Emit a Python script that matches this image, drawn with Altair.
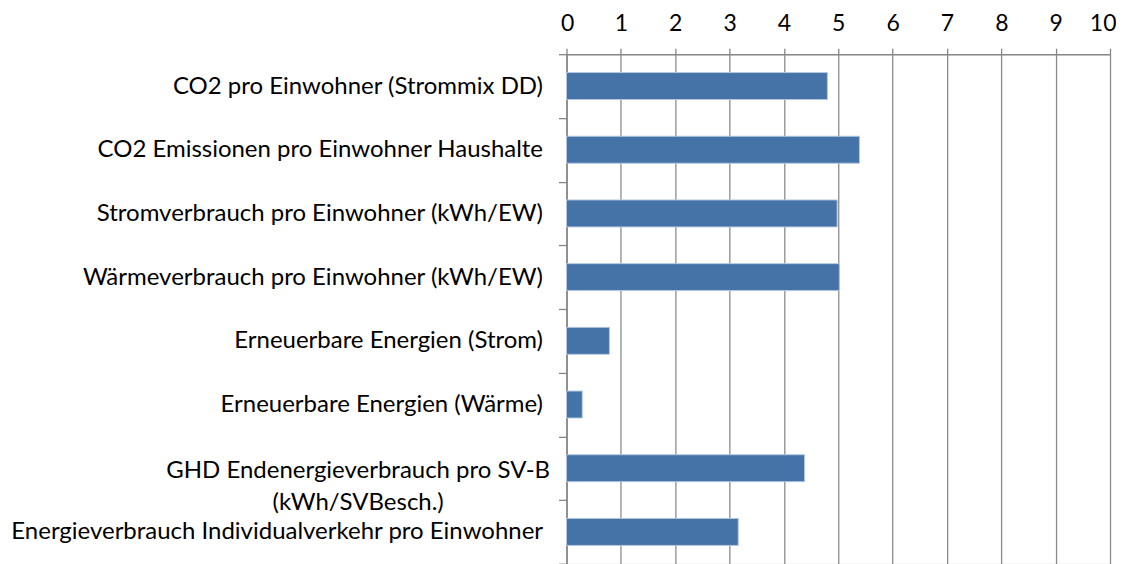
import altair as alt
import pandas as pd

categories = [
    "CO2 pro Einwohner (Strommix DD)",
    "CO2 Emissionen pro Einwohner Haushalte",
    "Stromverbrauch pro Einwohner (kWh/EW)",
    "Wärmeverbrauch pro Einwohner (kWh/EW)",
    "Erneuerbare Energien (Strom)",
    "Erneuerbare Energien (Wärme)",
    "GHD Endenergieverbrauch pro SV-B (kWh/SVBesch.)",
    "Energieverbrauch Individualverkehr pro Einwohner",
]
values = [4.8, 5.39, 4.98, 5.02, 0.79, 0.29, 4.38, 3.16]
x_ticks = [0, 1, 2, 3, 4, 5, 6, 7, 8, 9, 10]

df = pd.DataFrame({"cat": categories, "val": values})

FONT = "Lato"
GHD = "GHD Endenergieverbrauch pro SV-B (kWh/SVBesch.)"

label_expr = (
    f"datum.value == '{GHD}' ? ['GHD Endenergieverbrauch pro SV-B', '(kWh/SVBesch.)'] : datum.value"
)

chart = (
    alt.Chart(df)
    .mark_bar(color="#4572A7", stroke="#B4C7E0", strokeWidth=1, size=27)
    .encode(
        x=alt.X(
            "val:Q",
            scale=alt.Scale(domain=[0, 10], nice=False, zero=True),
            axis=alt.Axis(
                orient="top",
                values=x_ticks,
                title=None,
                grid=True,
                gridColor="#8C8C8C",
                gridWidth=1.3,
                domainColor="#868686",
                domainWidth=1.5,
                tickColor="#868686",
                tickSize=6,
                tickWidth=1.3,
                labelFont=FONT,
                labelFontSize=23,
                labelColor="#000000",
                labelPadding=13,
                labelFlush=True,
                labelFlushOffset=6,
            ),
        ),
        y=alt.Y(
            "cat:N",
            sort=categories,
            scale=alt.Scale(paddingInner=0, paddingOuter=0),
            axis=alt.Axis(
                title=None,
                tickBand="extent",
                domainColor="#868686",
                domainWidth=1.5,
                tickColor="#868686",
                tickSize=8,
                tickWidth=1.3,
                labelFont=FONT,
                labelFontSize=24,
                labelColor="#000000",
                labelLimit=0,
                labelLineHeight=32,
                labelExpr=label_expr,
                labelAlign={
                    "condition": {"test": f"datum.value == '{GHD}'", "value": "center"},
                    "value": "right",
                },
                labelPadding={
                    "condition": {"test": f"datum.value == '{GHD}'", "value": 201},
                    "value": 16,
                },
                labelOffset={
                    "condition": {"test": f"datum.value == '{GHD}'", "value": 2},
                    "value": 0,
                },
            ),
        ),
    )
    .properties(width=544, height=510, padding={"left": 2, "top": 4, "right": 0, "bottom": 0})
    .configure_view(stroke=None)
    .configure(background="white")
)

chart.save("out.html", embed_options={"renderer": "svg", "actions": False})
